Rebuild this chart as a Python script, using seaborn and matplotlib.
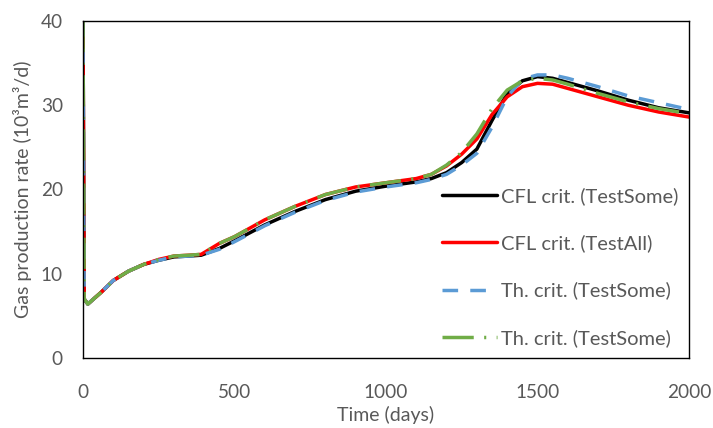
import numpy as np
import pandas as pd
import matplotlib
matplotlib.use("Agg")
import matplotlib.pyplot as plt
import seaborn as sns

# ---- data ----
days = [0, 4, 16, 60, 100, 150, 200, 250, 300, 350, 390, 450, 500, 600, 700, 800, 900,
        1000, 1100, 1150, 1200, 1250, 1300, 1350, 1400, 1450, 1500, 1550, 1600, 1700,
        1800, 1900, 2000]

cfl_testsome = [40, 7.0, 6.4, 7.8, 9.2, 10.3, 11.1, 11.6, 12.0, 12.1, 12.2, 13.0, 13.9,
                15.8, 17.4, 18.8, 19.8, 20.4, 20.9, 21.3, 22.0, 23.2, 24.8, 28.2, 31.4,
                32.9, 33.4, 33.2, 32.7, 31.7, 30.6, 29.7, 29.1]
cfl_testall = [40, 7.0, 6.4, 7.8, 9.2, 10.3, 11.1, 11.7, 12.1, 12.2, 12.3, 13.6, 14.4,
               16.4, 18.0, 19.4, 20.3, 20.8, 21.3, 21.8, 22.8, 24.2, 26.0, 28.9, 31.0,
               32.2, 32.6, 32.5, 32.0, 31.0, 30.0, 29.2, 28.6]
th_testsome = [40, 7.0, 6.4, 7.8, 9.2, 10.3, 11.1, 11.6, 12.0, 12.1, 12.2, 12.9, 13.8,
               15.7, 17.3, 18.7, 19.7, 20.3, 20.8, 21.2, 21.8, 22.9, 24.3, 27.4, 31.0,
               33.1, 33.6, 33.6, 33.2, 32.2, 31.1, 30.3, 29.5]
th_testsome2 = [40, 7.0, 6.4, 7.8, 9.2, 10.3, 11.1, 11.7, 12.1, 12.2, 12.3, 13.6, 14.4,
                16.4, 18.0, 19.4, 20.3, 20.8, 21.3, 21.8, 22.9, 24.4, 26.6, 29.6, 31.8,
                32.9, 33.2, 33.0, 32.5, 31.4, 30.4, 29.6, 29.0]

labels = ["CFL crit. (TestSome)", "CFL crit. (TestAll)",
          "Th. crit. (TestSome)", "Th. crit. (TestSome)"]
x_ticks = [0, 500, 1000, 1500, 2000]
y_ticks = [0, 10, 20, 30, 40]

# ---- styling ----
sns.set_theme(style="white")
plt.rcParams['font.family'] = ['Lato', 'DejaVu Sans']
grey = "#595959"
fs = 14

fig = plt.figure(figsize=(7.13, 4.28), dpi=100)
ax = fig.add_axes([0.1164, 0.1636, 0.8499, 0.7873])

series = [cfl_testsome, cfl_testall, th_testsome, th_testsome2]
colors = ["#000000", "#ff0000", "#5b9bd5", "#70ad47"]
styles = ["-", "-", (0, (4.5, 3.5)), (0, (9, 3, 0.6, 3))]

for vals, lab, col, ls in zip(series, labels, colors, styles):
    sns.lineplot(x=days, y=vals, ax=ax, color=col, linestyle=ls, linewidth=2.5,
                 label=lab, estimator=None, sort=False)

ax.set_xlim(0, 2000)
ax.set_ylim(0, 40)
ax.set_xticks(x_ticks)
ax.set_yticks(y_ticks)
ax.tick_params(axis='both', length=0, labelsize=13.7, colors=grey)
ax.tick_params(axis='x', pad=18.5)
ax.tick_params(axis='y', pad=14.5)
for s in ax.spines.values():
    s.set_color("#000000")
    s.set_linewidth(1.0)

ax.set_xlabel("Time (days)", fontsize=fs, color=grey, labelpad=4)
ax.set_ylabel("Gas production rate (10³m³/d)", fontsize=fs, color=grey, labelpad=6)

leg = ax.legend(loc="upper left", bbox_to_anchor=(0.582, 0.524), frameon=True,
                fontsize=14.5, labelspacing=1.45, handlelength=2.75, handletextpad=0.2,
                borderaxespad=0, borderpad=0.3)
leg.get_frame().set_edgecolor("none")
leg.get_frame().set_facecolor("white")
leg.get_frame().set_alpha(1.0)
leg.get_frame().set_boxstyle("square", pad=0)
for t in leg.get_texts():
    t.set_color(grey)

fig.savefig("out.png", dpi=100)
